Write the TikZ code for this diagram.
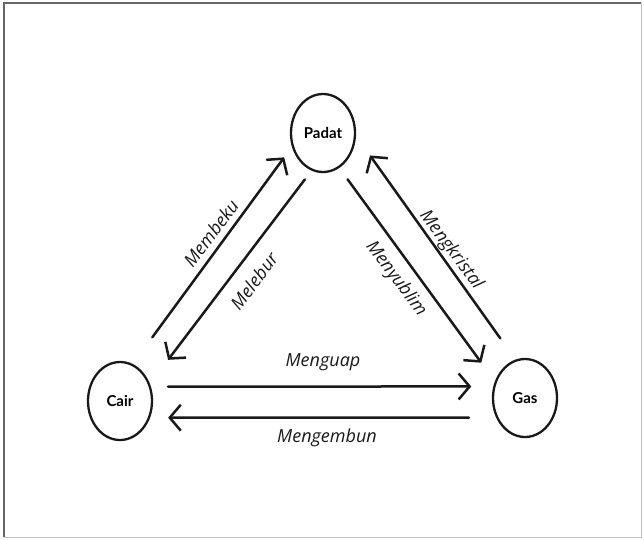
\documentclass[tikz,border=0pt]{standalone}
\usepackage{fontspec}
\setmainfont{Lato}
\newfontfamily\handfont{Open Sans}
\usetikzlibrary{arrows.meta,shapes.geometric}
\begin{document}
\begin{tikzpicture}[x=1pt,y=-1pt,
  state/.style={ellipse, draw=black!90, line width=2.3pt, inner sep=0pt,
    minimum width=64pt, minimum height=78pt, font=\bfseries\fontsize{15}{15}\selectfont},
  arr/.style={line width=2.5pt, draw=black!90, line cap=round,
    -{Straight Barb[length=11pt,width=26pt,line width=2.5pt]}},
  lbl/.style={font=\handfont\itshape\fontsize{18}{18}\selectfont, text=black!90, inner sep=0pt}]
\useasboundingbox (0,0) rectangle (644,539);
% outer frame
\draw[black!60, line width=1.3pt] (4,537) -- (4,3) -- (641,3);
\draw[black!25, line width=1pt] (641,3) -- (641,537) -- (4,537);

% states of matter
\node[state] (padat) at (323,133) {Padat};
\node[state] (cair)  at (120,401) {Cair};
\node[state] (gas)   at (525,398) {Gas};

% cair <-> padat
\draw[arr, shorten <=33pt, shorten >=13pt] (cair.71) -- (padat.204);
\draw[arr, shorten <=11pt, shorten >=30pt] (padat.253) -- (cair.30);
% padat <-> gas
\draw[arr, shorten <=14pt, shorten >=23pt] (padat.295) -- (gas.151);
\draw[arr, shorten <=26pt, shorten >=24pt] (gas.104) -- (padat.355);
% cair <-> gas
\draw[arr, shorten <=17pt, shorten >=22pt] (cair.25) -- (gas.160);
\draw[arr, shorten <=27pt, shorten >=18pt] (gas.214) -- (cair.331);

% process labels
\node[lbl, rotate=53]  (membeku) at (211,233) {Membeku};
\node[lbl, rotate=53]  (melebur) at (254,281) {Melebur};
\node[lbl, rotate=-53] (menyublim) at (396,279) {Menyublim};
\node[lbl, rotate=-53] (mengkristal) at (451,250) {Mengkristal};
\node[lbl] (menguap) at (323,362) {Menguap};
\node[lbl] (mengembun) at (327,438) {Mengembun};
\end{tikzpicture}
\end{document}
